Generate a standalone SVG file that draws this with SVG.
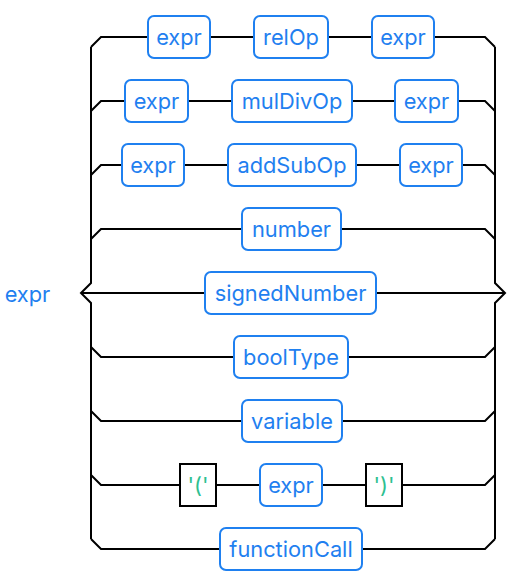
<svg xmlns="http://www.w3.org/2000/svg" width="532" height="584" viewBox="0 0 532 584">
<style>
.nt rect{fill:#fff;stroke:#1f80f0;stroke-width:2}
.nt text{fill:#1f80f0}
.t rect{fill:#fff;stroke:#000;stroke-width:2}
.t text{fill:#2ebf91}
text{font-family:Inter,"DejaVu Sans",sans-serif;font-size:21.8px;text-anchor:middle;dominant-baseline:central}
#conn path{fill:none;stroke:#000;stroke-width:2}
</style>
<rect width="532" height="584" fill="#fff"/>
<g id="conn">
<path d="M91,47 V283 L81,293 L91,303 V539"/>
<path d="M495,47 V283 L505,293 L495,303 V539"/>
<path d="M91,47 L101,37 H147 M211,37 H253 M329,37 H371 M435,37 H485 L495,47"/>
<path d="M91,111 L101,101 H124 M189,101 H231 M353,101 H394 M459,101 H485 L495,111"/>
<path d="M91,175 L101,165 H121 M185,165 H227 M357,165 H399 M463,165 H485 L495,175"/>
<path d="M91,239 L101,229 H241 M342,229 H485 L495,239"/>
<path d="M81,293 H204 M377,293 H505"/>
<path d="M91,347 L101,357 H233 M349,357 H485 L495,347"/>
<path d="M91,411 L101,421 H241 M343,421 H485 L495,411"/>
<path d="M91,475 L101,485 H179 M217,485 H259 M323,485 H365 M403,485 H485 L495,475"/>
<path d="M91,539 L101,549 H219 M363,549 H485 L495,539"/>
</g>
<g id="label"><text x="27.5" y="294" fill="#1f80f0">expr</text></g>
<g id="n1a" class="nt"><rect x="148" y="16" width="62" height="42" rx="6"/><text x="179" y="37">expr</text></g>
<g id="n1b" class="nt"><rect x="254" y="16" width="74" height="42" rx="6"/><text x="291" y="37">relOp</text></g>
<g id="n1c" class="nt"><rect x="372" y="16" width="62" height="42" rx="6"/><text x="403" y="37">expr</text></g>
<g id="n2a" class="nt"><rect x="125" y="80" width="63" height="42" rx="6"/><text x="156.5" y="101">expr</text></g>
<g id="n2b" class="nt"><rect x="232" y="80" width="120" height="42" rx="6"/><text x="292" y="101">mulDivOp</text></g>
<g id="n2c" class="nt"><rect x="395" y="80" width="63" height="42" rx="6"/><text x="426.5" y="101">expr</text></g>
<g id="n3a" class="nt"><rect x="122" y="144" width="62" height="42" rx="6"/><text x="153" y="165">expr</text></g>
<g id="n3b" class="nt"><rect x="228" y="144" width="128" height="42" rx="6"/><text x="292" y="165">addSubOp</text></g>
<g id="n3c" class="nt"><rect x="400" y="144" width="62" height="42" rx="6"/><text x="431" y="165">expr</text></g>
<g id="n4" class="nt"><rect x="242" y="208" width="99" height="42" rx="6"/><text x="291.5" y="229">number</text></g>
<g id="n5" class="nt"><rect x="205" y="272" width="171" height="42" rx="6"/><text x="290.5" y="293">signedNumber</text></g>
<g id="n6" class="nt"><rect x="234" y="336" width="114" height="42" rx="6"/><text x="291" y="357">boolType</text></g>
<g id="n7" class="nt"><rect x="242" y="400" width="100" height="42" rx="6"/><text x="292" y="421">variable</text></g>
<g id="n8a" class="t"><rect x="180" y="464" width="36" height="42"/><text x="198" y="485">'('</text></g>
<g id="n8b" class="nt"><rect x="260" y="464" width="62" height="42" rx="6"/><text x="291" y="485">expr</text></g>
<g id="n8c" class="t"><rect x="366" y="464" width="36" height="42"/><text x="384" y="485">')'</text></g>
<g id="n9" class="nt"><rect x="220" y="528" width="142" height="42" rx="6"/><text x="291" y="549">functionCall</text></g>
</svg>
